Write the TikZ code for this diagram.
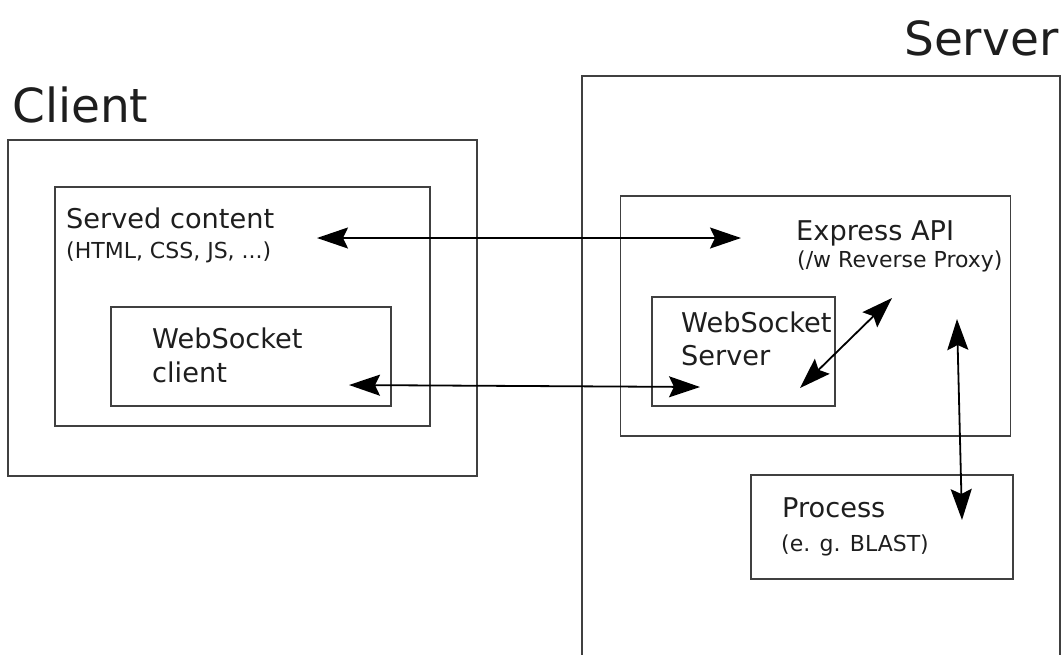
\documentclass[tikz,border=0pt]{standalone}
\usepackage{fontspec}
\setmainfont{DejaVu Sans}
\usetikzlibrary{arrows.meta}
\definecolor{ink}{HTML}{1E1E1E}
\tikzset{
  box/.style={draw=ink!85, line width=1.5pt, inner sep=0pt},
  big/.style={anchor=base west, inner sep=0pt, text=ink, font=\fontsize{47}{56}\selectfont},
  mid/.style={anchor=base west, inner sep=0pt, text=ink, font=\fontsize{27.2}{34}\selectfont},
  small/.style={anchor=base west, inner sep=0pt, text=ink, font=\fontsize{22}{26}\selectfont},
  link/.style={draw=black, line width=1.8pt, {Stealth[length=31pt,width=21pt,inset=5pt]}-{Stealth[length=31pt,width=21pt,inset=5pt]}}
}
\begin{document}
\begin{tikzpicture}[x=1pt, y=-1pt]
\useasboundingbox (0,0) rectangle (1064,654);

% client side
\node[box, minimum width=469pt, minimum height=336pt] (client) at (242.5,308) {};
\node[box, minimum width=375pt, minimum height=239pt] (served) at (242.5,306.5) {};
\node[box, minimum width=280pt, minimum height=99pt] (wsclient) at (251,356.5) {};
\node[big] (clientlbl) at (12,122) {Client};
\node[mid] (servedlbl) at (66,228) {Served content};
\node[small] (servedsub) at (66,258) {(HTML, CSS, JS, ...)};
\node[mid] (wsclientlbl) at (152,348) {WebSocket};
\node[mid] (wsclientlbl2) at (152,382) {client};

% server side
\node[box, minimum width=478pt, minimum height=620pt] (server) at (821,386) {};
\node[box, minimum width=390pt, minimum height=240pt] (express) at (815.5,316) {};
\node[box, minimum width=183pt, minimum height=109pt] (wsserver) at (743.5,351.5) {};
\node[box, minimum width=262pt, minimum height=104pt] (process) at (882,527) {};
\node[big] (serverlbl) at (904,55) {Server};
\node[mid] (expresslbl) at (796,240) {Express API};
\node[small] (expresssub) at (797,267) {(/w Reverse Proxy)};
\node[mid] (wsserverlbl) at (681,332) {WebSocket};
\node[mid] (wsserverlbl2) at (681,365) {Server};
\node[mid] (processlbl) at (782,517) {Process};
\node[small] (processsub) at (781,551) {(e. g. BLAST)};

% connector end points
\coordinate (cServed) at (317,238);
\coordinate (cExpressIn) at (741,238);
\coordinate (cWsClient) at (349,385);
\coordinate (cWsServerIn) at (700,387);
\coordinate (cWsServerOut) at (800,388);
\coordinate (cExpressWs) at (892,298);
\coordinate (cExpressDown) at (957,319);
\coordinate (cProcess) at (962,520);

% connectors
\draw[link] (cServed) -- (cExpressIn);
\draw[link] (cWsClient) -- (cWsServerIn);
\draw[link] (cWsServerOut) -- (cExpressWs);
\draw[link] (cExpressDown) -- (cProcess);
\end{tikzpicture}
\end{document}
